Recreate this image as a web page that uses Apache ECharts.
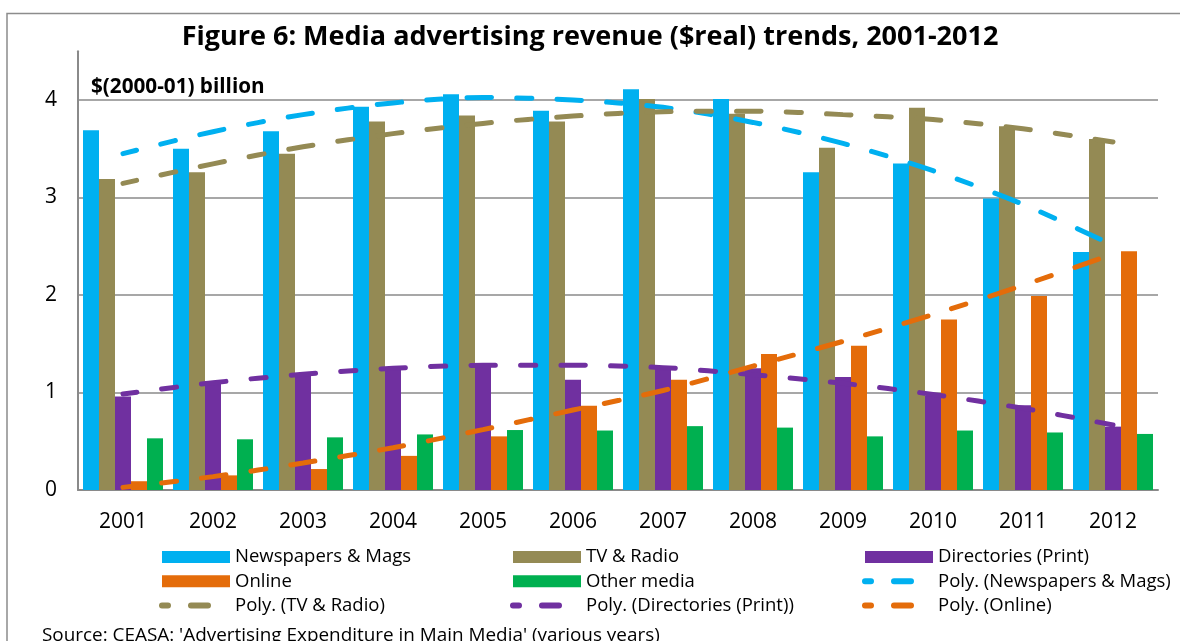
<!DOCTYPE html>
<html>
<head>
<meta charset="utf-8">
<script src="https://cdn.jsdelivr.net/npm/echarts@6/dist/echarts.min.js"></script>
<style>
  html, body { margin: 0; padding: 0; background: #ffffff; }
  #chart { width: 1180px; height: 641px; }
</style>
</head>
<body>
<div id="chart"></div>
<script>
// Categories
const years = ['2001', '2002', '2003', '2004', '2005', '2006', '2007', '2008', '2009', '2010', '2011', '2012'];

// Revenue by medium, $(2000-01) billion
const newspapersMags = [3.69, 3.50, 3.68, 3.93, 4.06, 3.89, 4.11, 4.01, 3.26, 3.35, 2.99, 2.44];
const tvRadio        = [3.19, 3.26, 3.45, 3.78, 3.84, 3.78, 4.01, 3.86, 3.51, 3.92, 3.73, 3.60];
const directories    = [0.96, 1.09, 1.19, 1.25, 1.285, 1.13, 1.265, 1.25, 1.16, 0.965, 0.87, 0.65];
const online         = [0.09, 0.15, 0.215, 0.35, 0.55, 0.865, 1.13, 1.395, 1.48, 1.75, 1.99, 2.45];
const otherMedia     = [0.53, 0.52, 0.54, 0.57, 0.615, 0.61, 0.655, 0.64, 0.55, 0.61, 0.59, 0.575];

// Polynomial trend lines
const polyNewspapers  = [3.45, 3.675, 3.85, 3.97, 4.025, 4.00, 3.925, 3.77, 3.555, 3.275, 2.93, 2.51];
const polyTvRadio     = [3.145, 3.345, 3.52, 3.655, 3.76, 3.835, 3.88, 3.885, 3.85, 3.80, 3.705, 3.57];
const polyDirectories = [0.985, 1.10, 1.187, 1.248, 1.279, 1.279, 1.255, 1.183, 1.094, 0.98, 0.838, 0.667];
const polyOnline      = [0.027, 0.137, 0.277, 0.434, 0.619, 0.82, 1.02, 1.27, 1.525, 1.80, 2.10, 2.42];

const FONT = '"Open Sans", "Noto Sans", sans-serif';
const C_BLUE = '#00B0F0', C_TAN = '#948A54', C_PURPLE = '#7030A0', C_ORANGE = '#E46C0A', C_GREEN = '#00B050';
const GRID_GREY = '#8a8a8a';

function barSeries(name, data, color) {
  return {
    name: name, type: 'bar', data: data,
    barWidth: 16, barGap: '0%',
    itemStyle: { color: color },
    emphasis: { disabled: true }
  };
}
function trendSeries(name, data, color) {
  return {
    name: name, type: 'line', data: data,
    symbol: 'none', smooth: 0.3, z: 4,
    lineStyle: { color: color, width: 5, type: [25, 25, 15, 25], dashOffset: 11, cap: 'round' },
    itemStyle: { color: color },
    emphasis: { disabled: true }
  };
}

const legendText = { fontFamily: FONT, fontSize: 18.5, color: '#000', lineHeight: 20 };
const lineIcon = { width: 6, type: [17, 23], cap: 'round' };
const hiddenDot = { color: 'rgba(0,0,0,0)', borderWidth: 0 };
function legendCol(left, items) {
  return {
    orient: 'vertical', left: left, top: 547, padding: 0,
    itemWidth: 68, itemHeight: 12, itemGap: 4.3,
    selectedMode: false,
    textStyle: legendText,
    data: items.map(function (it) {
      return it.line
        ? { name: it.name, lineStyle: lineIcon, itemStyle: hiddenDot }
        : { name: it.name, icon: 'rect' };
    })
  };
}

const chart = echarts.init(document.getElementById('chart'), null, { renderer: 'canvas' });
chart.setOption({
  animation: false,
  backgroundColor: '#ffffff',
  grid: { left: 78, right: 22, top: 51.25, bottom: 151 },
  xAxis: {
    type: 'category', data: years,
    axisLine: { lineStyle: { color: GRID_GREY, width: 2 } },
    axisTick: { show: false },
    axisLabel: { fontFamily: FONT, fontSize: 21, color: '#000', margin: 22 }
  },
  yAxis: {
    type: 'value', min: 0, max: 4.5, interval: 1,
    axisLine: { show: true, lineStyle: { color: GRID_GREY, width: 2 } },
    axisTick: { show: false },
    axisLabel: { fontFamily: FONT, fontSize: 21, color: '#000', margin: 21, showMaxLabel: false },
    splitLine: { show: true, showMaxLine: false, lineStyle: { color: GRID_GREY, width: 1.5 } }
  },
  legend: [
    legendCol(159, [{ name: 'Newspapers & Mags' }, { name: 'Online' }, { name: 'Poly. (TV & Radio)', line: true }]),
    legendCol(510, [{ name: 'TV & Radio' }, { name: 'Other media' }, { name: 'Poly. (Directories (Print))', line: true }]),
    legendCol(862, [{ name: 'Directories (Print)' }, { name: 'Poly. (Newspapers & Mags)', line: true }, { name: 'Poly. (Online)', line: true }])
  ],
  graphic: [
    {
      type: 'rect', z: 0, silent: true,
      shape: { x: 7, y: 13.5, width: 1300, height: 800 },
      style: { fill: 'none', stroke: '#8c8c8c', lineWidth: 1.5 }
    },
    {
      type: 'text', x: 590, y: 37, silent: true,
      style: {
        text: 'Figure 6: Media advertising revenue ($real) trends, 2001-2012',
        fontFamily: FONT, fontWeight: 'bold', fontSize: 27, fill: '#000',
        textAlign: 'center', textVerticalAlign: 'middle'
      }
    },
    {
      type: 'text', x: 91, y: 87, silent: true,
      style: {
        text: '$(2000-01) billion',
        fontFamily: FONT, fontWeight: 'bold', fontSize: 20.7, fill: '#000',
        textAlign: 'left', textVerticalAlign: 'middle'
      }
    },
    {
      type: 'text', x: 42, y: 636, silent: true,
      style: {
        text: "Source: CEASA: 'Advertising Expenditure in Main Media' (various years)",
        fontFamily: FONT, fontSize: 18.9, fill: '#000',
        textAlign: 'left', textVerticalAlign: 'middle'
      }
    }
  ],
  series: [
    barSeries('Newspapers & Mags', newspapersMags, C_BLUE),
    barSeries('TV & Radio', tvRadio, C_TAN),
    barSeries('Directories (Print)', directories, C_PURPLE),
    barSeries('Online', online, C_ORANGE),
    barSeries('Other media', otherMedia, C_GREEN),
    trendSeries('Poly. (Newspapers & Mags)', polyNewspapers, C_BLUE),
    trendSeries('Poly. (TV & Radio)', polyTvRadio, C_TAN),
    trendSeries('Poly. (Directories (Print))', polyDirectories, C_PURPLE),
    trendSeries('Poly. (Online)', polyOnline, C_ORANGE)
  ]
});
</script>
</body>
</html>
